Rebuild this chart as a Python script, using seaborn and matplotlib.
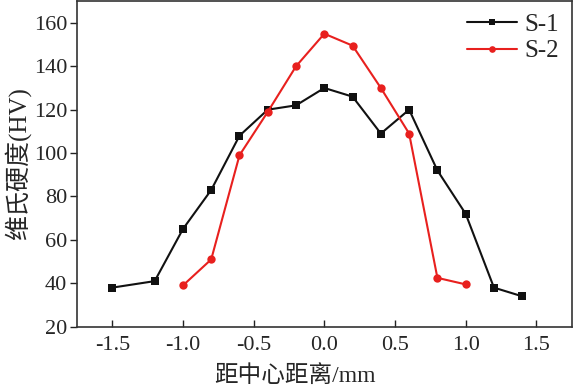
import matplotlib
matplotlib.use("Agg")
import matplotlib.pyplot as plt
import seaborn as sns
import pandas as pd

sns.set_theme(style="ticks")
plt.rcParams["font.family"] = ["Liberation Serif", "Noto Sans CJK SC"]
plt.rcParams["xtick.direction"] = "in"
plt.rcParams["ytick.direction"] = "out"

# hardness profiles
x_s1 = [-1.5, -1.2, -1.0, -0.8, -0.6, -0.4, -0.2, 0.0, 0.2, 0.4, 0.6, 0.8, 1.0, 1.2, 1.4]
hv_s1 = [38, 41, 65, 83, 108, 120, 122, 130, 126, 109, 120, 92, 72, 38, 34]

x_s2 = [-1.0, -0.8, -0.6, -0.4, -0.2, 0.0, 0.2, 0.4, 0.6, 0.8, 1.0]
hv_s2 = [39, 51, 99, 119, 140, 155, 149.5, 130, 109, 42.5, 39.5]

df = pd.concat([
    pd.DataFrame({"x": x_s1, "hv": hv_s1, "sample": "S-1"}),
    pd.DataFrame({"x": x_s2, "hv": hv_s2, "sample": "S-2"}),
])

palette = {"S-1": "#111111", "S-2": "#e8201e"}
markers = {"S-1": "s", "S-2": "o"}

fig = plt.figure(figsize=(5.74, 3.88), dpi=100)
ax = fig.add_axes([0.134, 0.158, 0.862, 0.839])

sns.lineplot(data=df, x="x", y="hv", hue="sample", style="sample",
             palette=palette, markers=markers, dashes=False,
             markersize=6, markeredgewidth=0, linewidth=1.5, ax=ax)

ax.set_xlim(-1.75, 1.75)
ax.set_ylim(20, 170)
ax.set_xticks([-1.5, -1.0, -0.5, 0.0, 0.5, 1.0, 1.5])
ax.set_yticks(range(20, 161, 20))
ax.set_xticklabels(["-1.5", "-1.0", "-0.5", "0.0", "0.5", "1.0", "1.5"])
ax.tick_params(labelsize=16, length=5, width=1, color="#222222")
ax.tick_params(axis="x", pad=7)
ax.tick_params(axis="y", pad=2)
for s in ax.spines.values():
    s.set_color("#333333")
    s.set_linewidth(1.2)

ax.set_xlabel("距中心距离/mm", fontsize=17, va="center")
ax.xaxis.set_label_coords(0.44, -0.152)
ax.set_ylabel("维氏硬度(HV)", fontsize=18, labelpad=2)

ax.legend(title=None, frameon=False, loc="upper right", fontsize=18,
          handlelength=2.0, handletextpad=0.3, borderaxespad=0.1,
          labelspacing=0.15, markerscale=0.8)

fig.savefig("out.png", dpi=100)
